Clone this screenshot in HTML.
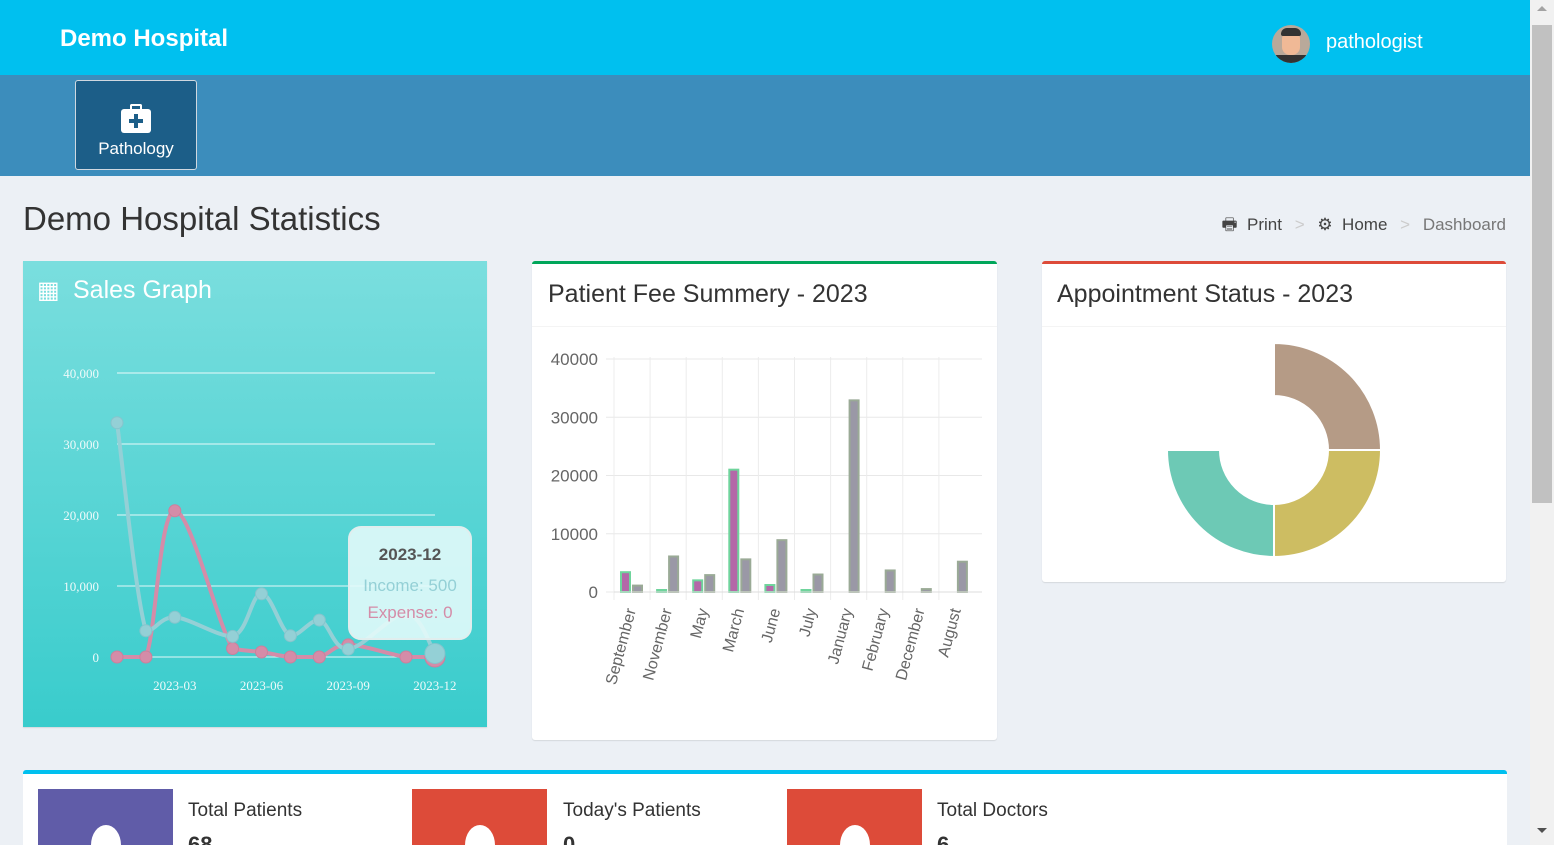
<!DOCTYPE html>
<html><head><meta charset="utf-8">
<style>
*{box-sizing:border-box;margin:0;padding:0}
html,body{width:1554px;height:845px;overflow:hidden}
body{background:#ecf0f5;font-family:"Liberation Sans",sans-serif;position:relative;color:#333}
.abs{position:absolute}
</style></head><body>
<div class="abs" style="left:0;top:0;width:1530px;height:75px;background:#00c0ef"></div>
<div class="abs" style="left:60px;top:25px;color:#fff;font-weight:bold;font-size:24px">Demo Hospital</div>
<div class="abs" style="left:1272px;top:25px;width:38px;height:38px;border-radius:50%;background:#b9a99a;overflow:hidden">
 <div style="position:absolute;left:10px;top:6px;width:18px;height:24px;border-radius:8px;background:#f0b996"></div>
 <div style="position:absolute;left:9px;top:3px;width:20px;height:8px;border-radius:6px 6px 2px 2px;background:#333"></div>
 <div style="position:absolute;left:4px;top:30px;width:30px;height:10px;background:#333"></div>
</div>
<div class="abs" style="left:1326px;top:31px;color:#fff;font-size:20px">pathologist</div>
<div class="abs" style="left:0;top:75px;width:1530px;height:101px;background:#3c8dbc"></div>
<div class="abs" style="left:75px;top:80px;width:122px;height:90px;background:#1c5e88;border:1px solid #cfd8e0;border-radius:3px;color:#fff;text-align:center">
 <div style="margin:28px auto 0;width:30px;height:24px;background:#fff;border-radius:3px;position:relative"><div style="position:absolute;left:9px;top:-5px;width:12px;height:6px;border:2px solid #fff;border-bottom:none;border-radius:2px 2px 0 0"></div><div style="position:absolute;left:13px;top:5px;width:4px;height:14px;background:#1c5e88"></div><div style="position:absolute;left:8px;top:10px;width:14px;height:4px;background:#1c5e88"></div></div>
 <div style="font-size:17px;margin-top:6px">Pathology</div>
</div>
<div class="abs" style="left:1530px;top:0;width:24px;height:845px;background:#f1f1f1"><div style="position:absolute;left:2px;top:25px;width:20px;height:478px;background:#c1c1c1"></div><div style="position:absolute;left:7px;top:6px;border:5px solid transparent;border-bottom-color:#a3a3a3;border-top:none"></div><div style="position:absolute;left:7px;top:828px;border:5px solid transparent;border-top-color:#505050;border-bottom:none"></div></div>
<div class="abs" style="left:23px;top:200px;font-size:33px;color:#333">Demo Hospital Statistics</div>
<div class="abs" style="right:48px;top:212px;font-size:17px;color:#444;white-space:nowrap">
 <span>&#128438;&nbsp; Print</span> <span style="color:#ccc;margin:0 8px">&gt;</span> <span>&#9881;&nbsp; Home</span> <span style="color:#ccc;margin:0 8px">&gt;</span> <span style="color:#777">Dashboard</span>
</div>

<div class="abs" style="left:23px;top:261px;width:464px;height:466px;background:linear-gradient(#7adede,#39cccc);box-shadow:0 1px 1px rgba(0,0,0,.1)"></div>
<div class="abs" style="left:37px;top:276px;color:#fff;font-size:25px"><span style="display:inline-block;width:36px;font-size:24px">&#9638;</span>Sales Graph</div>
<svg class="abs" id="sales" style="left:0;top:0" width="1554" height="845"></svg>

<div class="abs" style="left:532px;top:261px;width:465px;height:479px;background:#fff;border-top:3px solid #00a65a;border-radius:3px;box-shadow:0 1px 1px rgba(0,0,0,.1)"></div>
<div class="abs" style="left:548px;top:280px;font-size:25px;color:#333">Patient Fee Summery - 2023</div>
<div class="abs" style="left:532px;top:326px;width:465px;height:1px;background:#f4f4f4"></div>
<div class="abs" style="left:1042px;top:261px;width:464px;height:321px;background:#fff;border-top:3px solid #dd4b39;border-radius:3px;box-shadow:0 1px 1px rgba(0,0,0,.1)"></div>
<div class="abs" style="left:1057px;top:280px;font-size:25px;color:#333">Appointment Status - 2023</div>
<div class="abs" style="left:1042px;top:326px;width:464px;height:1px;background:#f4f4f4"></div>
<svg class="abs" id="charts" style="left:0;top:0" width="1554" height="845"></svg>

<div class="abs" style="left:23px;top:770px;width:1484px;height:75px;background:#fff;border-top:4px solid #00c0ef;border-radius:3px 3px 0 0;overflow:hidden"></div>
<div class="abs" style="left:38px;top:789px;width:135px;height:56px;background:#605ca8;overflow:hidden"><div style="position:absolute;left:53px;top:36px;width:30px;height:40px;border-radius:50%;background:#fff"></div></div>
<div class="abs" style="left:188px;top:800px;font-size:19px">Total Patients</div>
<div class="abs" style="left:188px;top:832px;font-size:22px;font-weight:bold">68</div>
<div class="abs" style="left:412px;top:789px;width:135px;height:56px;background:#dd4b39;overflow:hidden"><div style="position:absolute;left:53px;top:36px;width:30px;height:40px;border-radius:50%;background:#fff"></div></div>
<div class="abs" style="left:563px;top:800px;font-size:19px">Today's Patients</div>
<div class="abs" style="left:563px;top:832px;font-size:22px;font-weight:bold">0</div>
<div class="abs" style="left:787px;top:789px;width:135px;height:56px;background:#dd4b39;overflow:hidden"><div style="position:absolute;left:53px;top:36px;width:30px;height:40px;border-radius:50%;background:#fff"></div></div>
<div class="abs" style="left:937px;top:800px;font-size:19px">Total Doctors</div>
<div class="abs" style="left:937px;top:832px;font-size:22px;font-weight:bold">6</div>

<script>
const NS='http://www.w3.org/2000/svg';
function mk(p,t,a){const e=document.createElementNS(NS,t);for(const k in a)e.setAttribute(k,a[k]);p.appendChild(e);return e;}
// ---- Sales line chart data ----
const salesMonths=[1,2,3,5,6,7,8,9,11,12];
const incomeVals=[33000,3700,5600,2900,8900,3000,5200,1100,6100,500];
const expenseVals=[0,0,20600,1200,700,0,0,1700,0,0];
const salesTicks=[0,10000,20000,30000,40000];
const salesTickLabels=['0','10,000','20,000','30,000','40,000'];
const salesXTicks=[3,6,9,12];
const salesXLabels=['2023-03','2023-06','2023-09','2023-12'];
const sx=m=>117+(m-1)*28.9, sy=v=>657-v*0.0071;
const s=document.getElementById('sales');
salesTicks.forEach((t,i)=>{
 const l=mk(s,'line',{x1:117,x2:435,y1:sy(t),y2:sy(t),stroke:'rgba(255,255,255,.85)','stroke-width':1});
 
 const tx=mk(s,'text',{x:99,y:sy(t)+5,'text-anchor':'end',fill:'#eefafa','font-size':13,'font-family':'Liberation Serif,serif'});tx.textContent=salesTickLabels[i];
 
});
salesXTicks.forEach((m,i)=>{const tx=mk(s,'text',{x:sx(m),y:690,'text-anchor':'middle',fill:'#eefafa','font-size':13,'font-family':'Liberation Serif,serif'});tx.textContent=salesXLabels[i];
 });
function smooth(pts){let d='M'+pts[0][0]+','+pts[0][1];
 const cl=(y,a,b)=>Math.min(Math.max(y,Math.min(a,b)),Math.max(a,b));
 for(let i=0;i<pts.length-1;i++){const p0=pts[i-1]||pts[i],p1=pts[i],p2=pts[i+1],p3=pts[i+2]||p2;const t=0.18;
 const c1y=cl(p1[1]+(p2[1]-p0[1])*t,p1[1],p2[1]), c2y=cl(p2[1]-(p3[1]-p1[1])*t,p1[1],p2[1]);
 d+=' C'+(p1[0]+(p2[0]-p0[0])*t)+','+c1y+' '+(p2[0]-(p3[0]-p1[0])*t)+','+c2y+' '+p2[0]+','+p2[1];}return d;}
[[expenseVals,'#d48ca8','sales-expense-line'],[incomeVals,'#94d0d6','sales-income-line']].forEach(([vals,c,n])=>{
 const pts=vals.map((v,i)=>[sx(salesMonths[i]),sy(v)]);
 const p=mk(s,'path',{d:smooth(pts),fill:'none',stroke:c,'stroke-width':4});
 
 pts.forEach((q,i)=>{const r=(i==pts.length-1)?10:6;const ci=mk(s,'circle',{cx:q[0],cy:q[1],r:r,fill:c,stroke:c==='#94d0d6'?'#86c4cc':'#cc7f9c','stroke-width':1});
  });
});
const tg=mk(s,'g',{});
mk(tg,'rect',{x:349,y:527,width:122,height:112,rx:12,fill:'rgba(230,250,250,.88)',stroke:'#e0eeee','stroke-width':2});
const t1=mk(tg,'text',{x:410,y:560,'text-anchor':'middle','font-size':17,'font-weight':'bold',fill:'#555'});t1.textContent='2023-12';
const t2=mk(tg,'text',{x:410,y:591,'text-anchor':'middle','font-size':17,fill:'#94d0d6'});t2.textContent='Income: 500';
const t3=mk(tg,'text',{x:410,y:618,'text-anchor':'middle','font-size':17,fill:'#d48ca8'});t3.textContent='Expense: 0';

// ---- Fee bar chart data ----
const feeCats=['September','November','May','March','June','July','January','February','December','August'];
const feeGreen=[3400,300,2000,21000,1200,300,0,0,0,0];
const feeGray=[1100,6100,2900,5600,8900,3000,32900,3700,500,5200];
const feeTicks=[0,10000,20000,30000,40000];
const c=document.getElementById('charts');
const bx=i=>614+i*36.1, by=v=>592-v*0.005825;
feeTicks.forEach(t=>{const l=mk(c,'line',{x1:606,x2:982,y1:by(t),y2:by(t),stroke:'#e8e8e8'});
 const tx=mk(c,'text',{x:598,y:by(t)+6,'text-anchor':'end','font-size':17,fill:'#666'});tx.textContent=t;});
feeCats.forEach((n,i)=>{
 const l=mk(c,'line',{x1:bx(i),x2:bx(i),y1:357,y2:600,stroke:'#ececec'});
 const cx=bx(i)+18;
 if(feeGreen[i]>0){const h=Math.max(feeGreen[i]*0.005825,2);const r=mk(c,'rect',{x:cx-11,y:592-h,width:9,height:h,fill:'#b468a8',stroke:'#6fd49c','stroke-width':2});}
 const h2=feeGray[i]*0.005825;const r2=mk(c,'rect',{x:cx+1,y:592-h2,width:9,height:h2,fill:'#9a98a6',stroke:'#9aaa96','stroke-width':2});
 const tx=mk(c,'text',{x:0,y:0,'text-anchor':'end','font-size':16,fill:'#666',transform:'translate('+(cx+4)+',610) rotate(-75)'});tx.textContent=n;
});
mk(c,'line',{x1:614,x2:982,y1:592,y2:592,stroke:'#ddd'});

// ---- Donut ----
const apptLabels=['Pending','Confirmed','Completed','Cancelled'];
const apptVals=[1,1,1,1];
const apptColors=['#b59b86','#cdbd62','#6dc9b5','none'];
const tot=apptVals.reduce((a,b)=>a+b,0);let ang=-Math.PI/2;const CX=1274,CY=450,RO=107,RI=54;
apptVals.forEach((v,i)=>{const a2=ang+v/tot*2*Math.PI;
 const P=(r,a)=>(CX+r*Math.cos(a))+','+(CY+r*Math.sin(a));const lg=(a2-ang)>Math.PI?1:0;
 if(apptColors[i]!=='none'){const p=mk(c,'path',{d:'M'+P(RO,ang)+' A'+RO+','+RO+' 0 '+lg+' 1 '+P(RO,a2)+' L'+P(RI,a2)+' A'+RI+','+RI+' 0 '+lg+' 0 '+P(RI,ang)+'Z',fill:apptColors[i],stroke:'#fff','stroke-width':2});
 }
 ang=a2;});
</script>
</body></html>
